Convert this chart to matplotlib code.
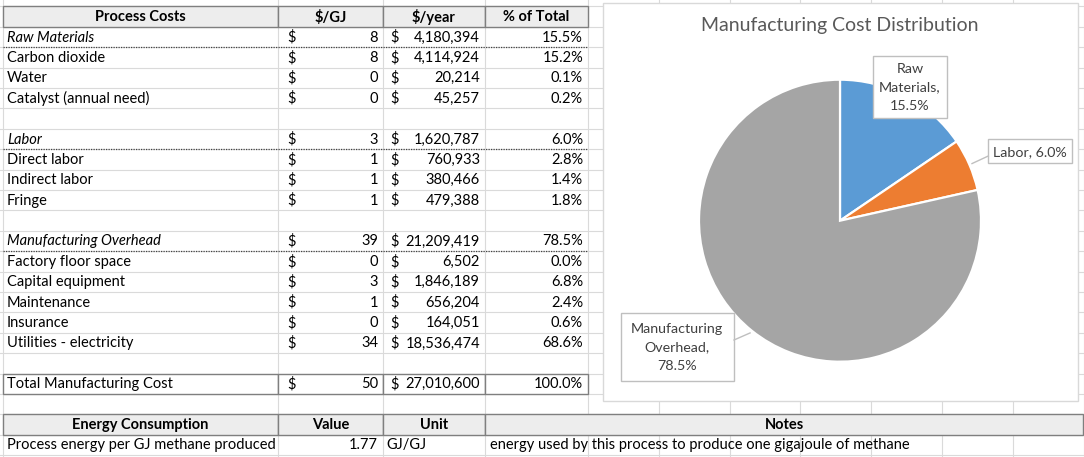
"""Process cost table plus manufacturing cost pie, drawn like the spreadsheet."""

import matplotlib.pyplot as plt
import numpy as np
from matplotlib.patches import Rectangle

# ---------------------------------------------------------------------------
# Data
# ---------------------------------------------------------------------------

cost_headers = ["Process Costs", "$/GJ", "$/year", "% of Total"]
cost_items = [
    "Raw Materials", "Carbon dioxide", "Water", "Catalyst (annual need)", "",
    "Labor", "Direct labor", "Indirect labor", "Fringe", "",
    "Manufacturing Overhead", "Factory floor space", "Capital equipment",
    "Maintenance", "Insurance", "Utilities - electricity", "",
    "Total Manufacturing Cost",
]
cost_per_gj = [8, 8, 0, 0, None, 3, 1, 1, 1, None,
               39, 0, 3, 1, 0, 34, None, 50]
cost_per_year = [4180394, 4114924, 20214, 45257, None,
                 1620787, 760933, 380466, 479388, None,
                 21209419, 6502, 1846189, 656204, 164051, 18536474, None,
                 27010600]
cost_pct = [15.5, 15.2, 0.1, 0.2, None, 6.0, 2.8, 1.4, 1.8, None,
            78.5, 0.0, 6.8, 2.4, 0.6, 68.6, None, 100.0]
group_rows = ["Raw Materials", "Labor", "Manufacturing Overhead"]

energy_headers = ["Energy Consumption", "Value", "Unit", "Notes"]
energy_items = ["Process energy per GJ methane produced"]
energy_values = [1.77]
energy_units = ["GJ/GJ"]
energy_notes = ["energy used by this process to produce one gigajoule of methane"]

pie_title = "Manufacturing Cost Distribution"
pie_labels = ["Raw\nMaterials,", "Labor,", "Manufacturing\nOverhead,"]
pie_shares = [15.5, 6.0, 78.5]
pie_colors = ["#5B9BD5", "#ED7D31", "#A5A5A5"]

# ---------------------------------------------------------------------------
# Layout (pixels)
# ---------------------------------------------------------------------------

W, H = 1084, 457
ROW0, ROW_H = 6.4, 20.4
COLS = [3, 278, 383, 485, 588]
GRID_X = [3, 278, 383, 485, 588, 658.8, 729.6, 800.4, 871.2, 942, 1012.8, 1083.6]
NOTES_RIGHT = 1083
FONT = "Lato"
FS = 10.5
GRID_C = "#DADADA"
BORDER_C = "#7F7F7F"
HEAD_FILL = "#EDEDED"

PIE_CX, PIE_CY, PIE_R = 840, 220.7, 141


def row_top(i):
    return ROW0 + ROW_H * i


def row_mid(i):
    return row_top(i) + ROW_H / 2 + 0.5


fig = plt.figure(figsize=(W / 100, H / 100), dpi=100)
ax = fig.add_axes([0, 0, 1, 1])
ax.set_xlim(0, W)
ax.set_ylim(H, 0)
ax.set_axis_off()

# spreadsheet gridlines
for x in GRID_X:
    ax.plot([x, x], [0, H], color=GRID_C, lw=0.8, zorder=0)
for i in range(23):
    ax.plot([0, W], [row_top(i), row_top(i)], color=GRID_C, lw=0.8, zorder=0)


def header_row(i, labels, edges):
    for k, lab in enumerate(labels):
        x0, x1 = edges[k], edges[k + 1]
        ax.add_patch(Rectangle((x0, row_top(i)), x1 - x0, ROW_H,
                               facecolor=HEAD_FILL, edgecolor=BORDER_C, lw=1, zorder=2))
        ax.text((x0 + x1) / 2, row_mid(i), lab, ha="center", va="center",
                fontsize=FS, fontweight="bold", family=FONT, zorder=3)


header_row(0, cost_headers, COLS)

for n, item in enumerate(cost_items):
    i = n + 1
    y = row_mid(i)
    is_total = item == "Total Manufacturing Cost"
    if is_total:
        for k in range(4):
            ax.add_patch(Rectangle((COLS[k], row_top(i)), COLS[k + 1] - COLS[k], ROW_H,
                                   facecolor="white", edgecolor=BORDER_C, lw=1, zorder=2))
    if item:
        style = "italic" if item in group_rows else "normal"
        ax.text(COLS[0] + 4, y, item, ha="left", va="center", fontsize=FS,
                style=style, family=FONT, zorder=3)
    if item in group_rows:
        ax.plot([COLS[0], COLS[4]], [row_top(i + 1)] * 2, color="#444444",
                lw=0.9, ls=(0, (1, 1)), zorder=2)
    if cost_per_gj[n] is not None:
        ax.text(COLS[1] + 9, y, "$", ha="left", va="center", fontsize=FS, family=FONT, zorder=3)
        ax.text(COLS[2] - 5, y, f"{cost_per_gj[n]}", ha="right", va="center",
                fontsize=FS, family=FONT, zorder=3)
    if cost_per_year[n] is not None:
        ax.text(COLS[2] + 7, y, "$", ha="left", va="center", fontsize=FS, family=FONT, zorder=3)
        ax.text(COLS[3] - 5, y, f"{cost_per_year[n]:,}", ha="right", va="center",
                fontsize=FS, family=FONT, zorder=3)
    if cost_pct[n] is not None:
        ax.text(COLS[4] - 5, y, f"{cost_pct[n]:.1f}%", ha="right", va="center",
                fontsize=FS, family=FONT, zorder=3)

# energy table
e_head = 20
header_row(e_head, energy_headers, COLS[:4] + [NOTES_RIGHT])
for n, item in enumerate(energy_items):
    i = e_head + 1 + n
    y = row_mid(i)
    ax.text(COLS[0] + 4, y, item, ha="left", va="center", fontsize=FS, family=FONT, zorder=3)
    ax.text(COLS[2] - 5, y, f"{energy_values[n]:.2f}", ha="right", va="center",
            fontsize=FS, family=FONT, zorder=3)
    ax.text(COLS[2] + 3, y, energy_units[n], ha="left", va="center",
            fontsize=FS, family=FONT, zorder=3)
    ax.text(COLS[3] + 5, y, energy_notes[n], ha="left", va="center",
            fontsize=FS, family=FONT, zorder=3)

# chart area
ax.add_patch(Rectangle((602.7, 2.7), 1078 - 602.7, 401 - 2.7, facecolor="white",
                       edgecolor="#D9D9D9", lw=1, zorder=4))
ax.text(PIE_CX, 26, pie_title, ha="center", va="center", fontsize=14,
        color="#595959", family=FONT, zorder=5)

# pie
pax = fig.add_axes([(PIE_CX - PIE_R) / W, (H - PIE_CY - PIE_R) / H,
                    2 * PIE_R / W, 2 * PIE_R / H], zorder=5)
pax.pie(pie_shares, colors=pie_colors, startangle=90, counterclock=False,
        radius=1, wedgeprops=dict(edgecolor="white", linewidth=1.6))
pax.set_xlim(-1, 1)
pax.set_ylim(-1, 1)
pax.set_axis_off()

# data labels on an overlay
oax = fig.add_axes([0, 0, 1, 1], zorder=6)
oax.set_xlim(0, W)
oax.set_ylim(H, 0)
oax.set_axis_off()
oax.patch.set_alpha(0)

ends = 90 - 360 * np.cumsum(pie_shares) / 100
starts = np.concatenate([[90], ends[:-1]])
mids = np.radians((starts + ends) / 2)

boxes = [(872.7, 55.7, 947.3, 118.3), (988.3, 139.3, 1071.7, 163.3),
         (620.7, 312.7, 734, 381)]
anchors = [None, (988.3, 156), (734, 340)]
for k, (lab, share) in enumerate(zip(pie_labels, pie_shares)):
    x0, y0, x1, y1 = boxes[k]
    oax.add_patch(Rectangle((x0, y0), x1 - x0, y1 - y0, facecolor="white",
                            edgecolor="#BFBFBF", lw=1))
    if "\n" in lab:
        txt = f"{lab}\n{share:.1f}%"
    else:
        txt = f"{lab} {share:.1f}%"
    oax.text((x0 + x1) / 2, (y0 + y1) / 2 + 0.5, txt, ha="center", va="center",
             fontsize=10.3, color="#404040", family=FONT, linespacing=1.65)
    if anchors[k] is not None:
        px = PIE_CX + PIE_R * 1.02 * np.cos(mids[k])
        py = PIE_CY - PIE_R * 1.02 * np.sin(mids[k])
        oax.plot([anchors[k][0], px], [anchors[k][1], py], color="#BFBFBF", lw=1)

fig.savefig("out.png", dpi=100)
